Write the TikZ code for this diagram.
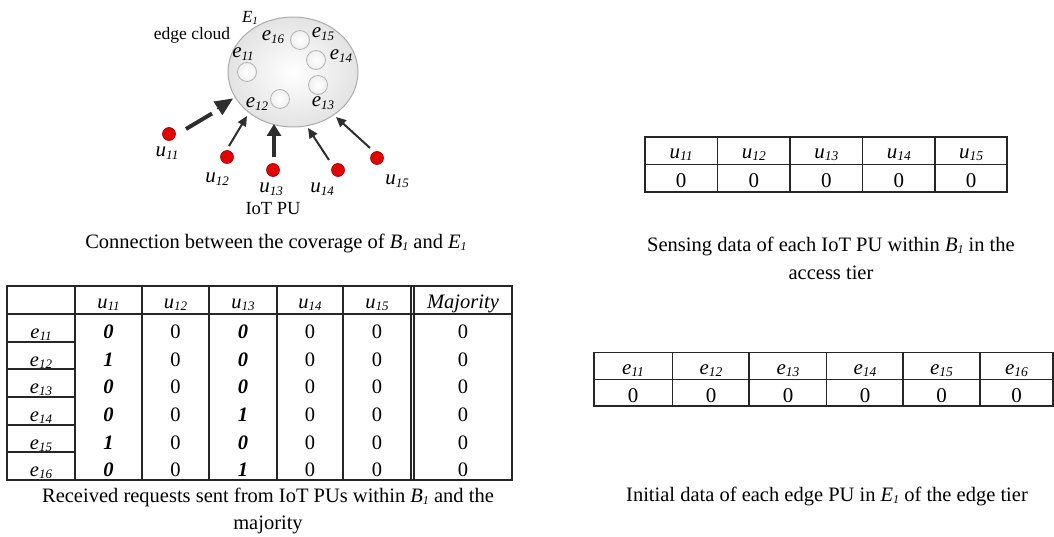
\documentclass[tikz,border=0pt]{standalone}
\usepackage{fontspec}
\setmainfont{Liberation Serif}
\usetikzlibrary{arrows.meta,shapes.geometric}
\newcommand{\Sub}[4]{\textit{#1}\raisebox{#4}{\fontsize{#3}{#3}\selectfont\textit{#2}}}
\newcommand{\bi}[1]{\textbf{\textit{#1}}}
\begin{document}
\begin{tikzpicture}[x=1pt,y=-1pt,
  tx/.style={inner sep=0pt, font=\fontsize{20.5}{23}\selectfont},
  txb/.style={inner sep=0pt, font=\fontsize{21}{24}\selectfont},
  captxt/.style={inner sep=0pt, align=center, font=\fontsize{20.5}{27.5}\selectfont},
  lab/.style={inner sep=0pt, font=\fontsize{21}{24}\selectfont},
  tline/.style={line width=1.1pt, draw=black!85},
  reddot/.style={circle, fill=red!90!black, draw=red!55!black, line width=0.6pt, minimum size=13pt, inner sep=0pt},
  epu/.style={circle, draw=gray!60, line width=0.8pt, inner color=white, outer color=gray!12, minimum size=19pt, inner sep=0pt},
  thinarr/.style={draw=black!82, line width=2pt, -{Triangle[length=10pt,width=9pt]}},
  thickarr/.style={draw=black!82, line width=4pt, -{Triangle[length=12pt,width=14pt]}}
]
\useasboundingbox (0,0) rectangle (1054,537);

% ---------- edge cloud figure ----------
\node[ellipse, draw=gray!65, line width=1pt, inner color=white, outer color=gray!22,
      minimum width=130pt, minimum height=110pt] (cloud) at (293,72) {};
\node[epu] (c11) at (247,72) {};
\node[epu] (c12) at (280,99) {};
\node[epu] (c13) at (318,85) {};
\node[epu] (c14) at (316,60) {};
\node[epu] (c15) at (300,40) {};

\node[inner sep=0pt, font=\fontsize{17}{20}\selectfont] (E1) at (250,18) {\Sub{E}{1}{11}{-2pt}};
\node[inner sep=0pt, font=\fontsize{17.5}{20}\selectfont] (ec) at (192,35) {edge cloud};
\node[lab] (l16) at (273,37) {\Sub{e}{16}{13}{-3pt}};
\node[lab] (l15) at (323,34) {\Sub{e}{15}{13}{-3pt}};
\node[lab] (l14) at (341,56) {\Sub{e}{14}{13}{-3pt}};
\node[lab] (l11) at (243,54) {\Sub{e}{11}{13}{-3pt}};
\node[lab] (l12) at (257,104) {\Sub{e}{12}{13}{-3pt}};
\node[lab] (l13) at (323,103) {\Sub{e}{13}{13}{-3pt}};

\node[reddot] (u11) at (169,134) {};
\node[reddot] (u12) at (227,157) {};
\node[reddot] (u13) at (273,170) {};
\node[reddot] (u14) at (338,170) {};
\node[reddot] (u15) at (377,158) {};

\node[lab] (lu11) at (167,153) {\Sub{u}{11}{13}{-3pt}};
\node[lab] (lu12) at (217,179) {\Sub{u}{12}{13}{-3pt}};
\node[lab] (lu13) at (271,189) {\Sub{u}{13}{13}{-3pt}};
\node[lab] (lu14) at (322,189) {\Sub{u}{14}{13}{-3pt}};
\node[lab] (lu15) at (397,181) {\Sub{u}{15}{13}{-3pt}};
\node[inner sep=0pt, font=\fontsize{18.5}{21}\selectfont] (iot) at (273,209) {IoT PU};

\coordinate (a1s) at (186,129); \coordinate (a1m) at (212,113.5);
\coordinate (a1h) at (217,109); \coordinate (a1e) at (233,98.5);
\draw[draw=black!82, line width=4pt] (a1s) -- (a1m);
\draw[draw=black!82, line width=1pt, -{Triangle[length=18pt,width=16pt]}] (a1h) -- (a1e);
\coordinate (a2s) at (229,146); \coordinate (a2e) at (247,116);
\draw[thinarr] (a2s) -- (a2e);
\coordinate (a3s) at (274,157); \coordinate (a3e) at (274,124);
\draw[thickarr] (a3s) -- (a3e);
\coordinate (a4s) at (329,160); \coordinate (a4e) at (308,128);
\draw[thinarr] (a4s) -- (a4e);
\coordinate (a5s) at (370,148); \coordinate (a5e) at (336,117);
\draw[thinarr] (a5s) -- (a5e);

\node[captxt] (cap1) at (276,243) {Connection between the coverage of \Sub{B}{1}{12}{-2pt} and \Sub{E}{1}{12}{-2pt}};

% ---------- table 1: sensing data ----------
\draw[tline] (645,137) rectangle (1007,192);
\draw[tline] (645,164.5) -- (1007,164.5);
\foreach \x in {717.5,790,862.5,935} \draw[tline] (\x,137) -- (\x,192);
\foreach \c/\x in {11/681,12/753.75,13/826.25,14/898.75,15/971} {
  \node[txb, anchor=base] (t1h\c) at (\x,159) {\Sub{u}{\c}{13.5}{-2pt}};
  \node[txb, anchor=base] (t1v\c) at (\x,187.5) {0};
}
\node[captxt] (cap2) at (831,258.5) {Sensing data of each IoT PU within \Sub{B}{1}{12}{-2pt} in the\\access tier};

% ---------- table 2: initial data ----------
\draw[tline] (594,352.5) rectangle (1053,406);
\draw[tline] (594,379.5) -- (1053,379.5);
\foreach \x in {672.5,749,826.5,903,980} \draw[tline] (\x,352.5) -- (\x,406);
\foreach \c/\x in {11/633,12/711,13/788,14/865,15/941.5,16/1016.5} {
  \node[txb, anchor=base] (t2h\c) at (\x,374.5) {\Sub{e}{\c}{13.5}{-2pt}};
  \node[txb, anchor=base] (t2v\c) at (\x,402) {0};
}
\node[captxt] (cap4) at (827,496) {Initial data of each edge PU in \Sub{E}{1}{12}{-2pt} of the edge tier};

% ---------- table 3: received requests ----------
\draw[tline] (7,286) rectangle (512,480);
\draw[tline] (7,314) -- (512,314);
\foreach \x in {75,142,209,277,343,411,414} \draw[tline] (\x,286) -- (\x,480);
\foreach \y in {342,369,397,425,452} \draw[tline] (7,\y) -- (75,\y);
\foreach \c/\x in {11/108.5,12/175.5,13/243,14/310,15/377}
  \node[tx, anchor=base] (t3h\c) at (\x,308) {\Sub{u}{\c}{13}{-2pt}};
\node[tx, anchor=base] (t3hm) at (463,308) {\textit{Majority}};
\foreach \c/\a/\b/\t in {11/0/0/314,12/1/0/342,13/0/0/369,14/0/1/397,15/1/0/425,16/0/1/452} {
  \pgfmathsetmacro\yb{\t+24.5}
  \node[tx, anchor=base] (t3e\c) at (41,\yb) {\Sub{e}{\c}{13}{-2pt}};
  \node[tx, anchor=base] (t3a\c) at (108.5,\yb) {\bi{\a}};
  \node[tx, anchor=base] (t3b\c) at (175.5,\yb) {0};
  \node[tx, anchor=base] (t3c\c) at (243,\yb) {\bi{\b}};
  \node[tx, anchor=base] (t3d\c) at (310,\yb) {0};
  \node[tx, anchor=base] (t3f\c) at (377,\yb) {0};
  \node[tx, anchor=base] (t3m\c) at (463,\yb) {0};
}
\node[captxt] (cap3) at (268,511) {Received requests sent from IoT PUs within \Sub{B}{1}{12}{-2pt} and the\\majority};
\end{tikzpicture}
\end{document}
